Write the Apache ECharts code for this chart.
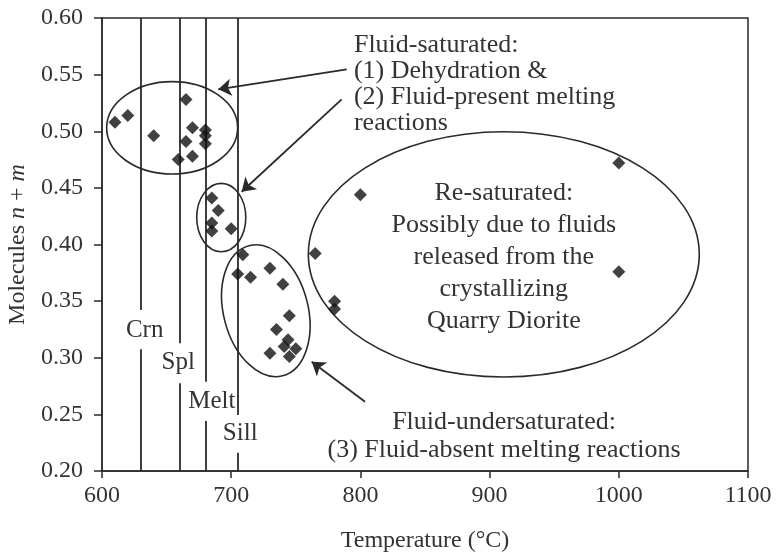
<!DOCTYPE html>
<html>
<head>
<meta charset="utf-8">
<script src="https://cdn.jsdelivr.net/npm/echarts@6/dist/echarts.min.js"></script>
<style>
  html, body { margin: 0; padding: 0; background: #fff; }
  #chart { width: 776px; height: 554px; }
</style>
</head>
<body>
<div id="chart"></div>
<script>
// Measured samples: temperature (°C) and molecules n + m
const tempC = [610, 620, 640, 665, 670, 665, 680, 680, 680, 659, 670,
               685, 690, 685, 685, 700,
               709, 705, 715, 730, 740, 745, 735, 744, 750, 745, 741, 730,
               765, 800, 780, 780, 1000, 1000];
const molecules = [0.508, 0.514, 0.496, 0.528, 0.503, 0.491, 0.501, 0.496, 0.489, 0.475, 0.478,
                   0.441, 0.430, 0.419, 0.412, 0.414,
                   0.391, 0.374, 0.371, 0.379, 0.365, 0.337, 0.325, 0.316, 0.308, 0.301, 0.310, 0.304,
                   0.392, 0.444, 0.350, 0.343, 0.472, 0.376];

// Axis ticks
const xTicks = [600, 700, 800, 900, 1000, 1100];
const yTicks = [0.20, 0.25, 0.30, 0.35, 0.40, 0.45, 0.50, 0.55, 0.60];

// Reaction boundaries (°C) with label names
const reactionNames = ['Crn', 'Spl', 'Melt', 'Sill'];
const reactionTemps = [630, 660, 680, 705];
const reactionLabelY = [0.324, 0.2956, 0.2612, 0.2333];
const reactionLabelX = [633, 659, 685, 707];
const reactionGapTop = [0.3422, 0.3128, 0.2789, 0.2495];
const reactionGapBottom = [0.3075, 0.2774, 0.2441, 0.2162];

// Group outlines: centre x, centre y, x radius, y radius, tilt (deg)
const outlineCx = [654.3, 692.3, 726.8, 911];
const outlineCy = [0.503, 0.4238, 0.3415, 0.3913];
const outlineRx = [50.7, 19, 32.7, 151.3];
const outlineRy = [0.0408, 0.0302, 0.0593, 0.1083];
const outlineTilt = [0, 0, 14.5, 0];

// Pointer arrows: start and end
const arrowFrom = [[789.4, 0.5547], [785.5, 0.5282], [803.6, 0.2612]];
const arrowTo = [[690, 0.537], [708.1, 0.4466], [762.3, 0.2965]];

// Annotation blocks
const noteTexts = [
  'Fluid-saturated:\n(1) Dehydration &\n(2) Fluid-present melting\nreactions',
  'Re-saturated:\nPossibly due to fluids\nreleased from the\ncrystallizing\nQuarry Diorite',
  'Fluid-undersaturated:\n(3) Fluid-absent melting reactions'
];
const noteX = [795, 911, 911.2];
const noteY = [0.5876, 0.389, 0.231];

const SERIF = '"Liberation Serif", "Times New Roman", serif';
const INK = '#2a2a2a';

const points = tempC.map((t, i) => [t, molecules[i]]);

const boundarySegments = [];
reactionTemps.forEach((t, i) => {
  boundarySegments.push({ coords: [[t, 0.6], [t, reactionGapTop[i]]] });
  boundarySegments.push({ coords: [[t, reactionGapBottom[i]], [t, 0.2]] });
});

const arrowData = arrowFrom.map((p, i) => ({ coords: [p, arrowTo[i]] }));

const chart = echarts.init(document.getElementById('chart'), null, { renderer: 'canvas' });

chart.setOption({
  animation: false,
  backgroundColor: '#fff',
  grid: {
    left: 102, right: 28, top: 18, bottom: 83,
    containLabel: false,
    outerBoundsMode: 'none',
    show: true, borderColor: INK, borderWidth: 1.5, backgroundColor: 'transparent'
  },
  xAxis: {
    type: 'value',
    min: xTicks[0], max: xTicks[xTicks.length - 1], interval: 100,
    axisLine: { lineStyle: { color: INK, width: 1.5 } },
    axisTick: { show: true, inside: false, length: 7, lineStyle: { color: INK, width: 1.5 } },
    splitLine: { show: false },
    axisLabel: {
      color: '#333', fontFamily: SERIF, fontSize: 24, margin: 13,
      formatter: v => String(v)
    },
    name: 'Temperature (°C)',
    nameLocation: 'middle',
    nameGap: 58,
    nameTextStyle: { color: '#333', fontFamily: SERIF, fontSize: 24 }
  },
  yAxis: {
    type: 'value',
    min: yTicks[0], max: yTicks[yTicks.length - 1], interval: 0.05,
    axisLine: { lineStyle: { color: INK, width: 1.5 } },
    axisTick: { show: true, inside: false, length: 8, lineStyle: { color: INK, width: 1.5 } },
    splitLine: { show: false },
    axisLabel: {
      color: '#333', fontFamily: SERIF, fontSize: 24, margin: 19,
      formatter: v => v.toFixed(2)
    },
    name: '{r|Molecules }{i|n}{r| + }{i|m}',
    nameLocation: 'middle',
    nameGap: 71,
    nameRotate: 90,
    nameTextStyle: {
      color: '#333', fontFamily: SERIF, fontSize: 24,
      rich: {
        r: { fontFamily: SERIF, fontSize: 24, color: '#333' },
        i: { fontFamily: SERIF, fontSize: 24, color: '#333', fontStyle: 'italic' }
      }
    }
  },
  series: [
    {
      // reaction boundary lines
      type: 'lines',
      coordinateSystem: 'cartesian2d',
      silent: true,
      lineStyle: { color: INK, width: 1.8, opacity: 1 },
      data: boundarySegments,
      z: 2
    },
    {
      // reaction names
      type: 'custom',
      coordinateSystem: 'cartesian2d',
      silent: true,
      data: reactionNames.map((n, i) => [reactionLabelX[i], reactionLabelY[i], n]),
      renderItem: (params, api) => {
        const p = api.coord([api.value(0), api.value(1)]);
        return {
          type: 'text',
          x: p[0], y: p[1],
          style: {
            text: reactionNames[params.dataIndex],
            font: '25px ' + SERIF, fill: '#333',
            align: 'center', verticalAlign: 'middle'
          }
        };
      },
      z: 3
    },
    {
      // group outlines
      type: 'custom',
      coordinateSystem: 'cartesian2d',
      silent: true,
      data: outlineCx.map((c, i) => [c, outlineCy[i]]),
      renderItem: (params, api) => {
        const i = params.dataIndex;
        const c = api.coord([api.value(0), api.value(1)]);
        const s = api.size([outlineRx[i], outlineRy[i]]);
        return {
          type: 'ellipse',
          x: c[0], y: c[1],
          rotation: outlineTilt[i] * Math.PI / 180,
          shape: { cx: 0, cy: 0, rx: s[0], ry: s[1] },
          style: { fill: 'none', stroke: INK, lineWidth: 1.6 }
        };
      },
      z: 4
    },
    {
      // pointer arrows
      type: 'lines',
      coordinateSystem: 'cartesian2d',
      silent: true,
      symbol: ['none', 'arrow'],
      symbolSize: 13,
      lineStyle: { color: INK, width: 1.8, opacity: 1 },
      data: arrowData,
      z: 5
    },
    {
      // annotation text
      type: 'custom',
      coordinateSystem: 'cartesian2d',
      silent: true,
      data: noteX.map((x, i) => [x, noteY[i]]),
      renderItem: (params, api) => {
        const i = params.dataIndex;
        const p = api.coord([api.value(0), api.value(1)]);
        const styles = [
          { align: 'left', verticalAlign: 'top', lineHeight: 26 },
          { align: 'center', verticalAlign: 'middle', lineHeight: 32 },
          { align: 'center', verticalAlign: 'middle', lineHeight: 28 }
        ];
        return {
          type: 'text',
          x: p[0], y: p[1],
          style: Object.assign({
            text: noteTexts[i],
            font: '26px ' + SERIF, fill: '#333'
          }, styles[i])
        };
      },
      z: 6
    },
    {
      type: 'scatter',
      symbol: 'diamond',
      symbolSize: 13,
      itemStyle: { color: '#111' },
      data: points,
      z: 10
    }
  ]
});
</script>
</body>
</html>
